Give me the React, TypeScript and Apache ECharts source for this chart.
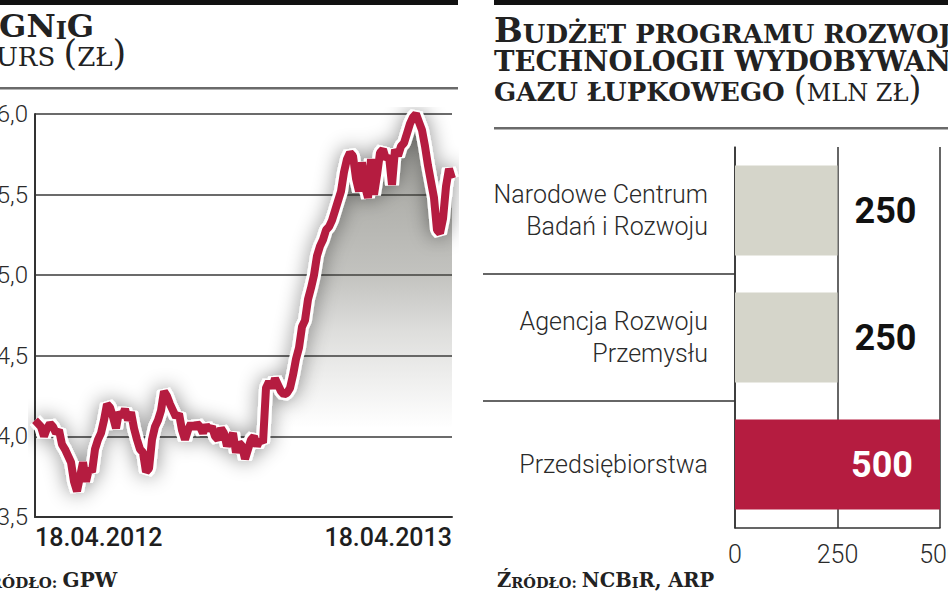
import React, { useEffect, useRef } from 'react';
import * as echarts from 'echarts';

// PGNiG share price (zł), 18.04.2012 – 18.04.2013
const prices = [
  4.10, 4.08, 4.06, 4.00, 4.05, 4.08, 4.06, 4.02, 4.04, 3.95,
  3.92, 3.88, 3.84, 3.72, 3.66, 3.75, 3.84, 3.72, 3.80, 3.78,
  3.92, 3.98, 4.02, 4.10, 4.20, 4.18, 4.12, 4.05, 4.15, 4.12,
  4.17, 4.10, 4.15, 4.05, 3.98, 3.92, 3.90, 3.78, 3.80, 3.98,
  4.06, 4.10, 4.16, 4.28, 4.25, 4.20, 4.16, 4.12, 4.14, 4.04,
  3.98, 4.04, 4.08, 4.05, 4.08, 4.06, 4.02, 4.07, 4.04, 4.06,
  4.00, 3.98, 4.05, 4.02, 3.94, 3.98, 4.02, 3.90, 3.96, 3.94,
  3.86, 3.92, 3.98, 4.00, 3.94, 3.98, 3.96, 4.30, 4.34, 4.30,
  4.36, 4.32, 4.28, 4.26, 4.27, 4.30, 4.38, 4.48, 4.55, 4.68,
  4.72, 4.85, 4.92, 5.00, 5.12, 5.18, 5.22, 5.28, 5.30, 5.34,
  5.40, 5.46, 5.52, 5.64, 5.72, 5.76, 5.74, 5.60, 5.52, 5.70,
  5.55, 5.48, 5.72, 5.50, 5.62, 5.76, 5.78, 5.72, 5.74, 5.56,
  5.78, 5.74, 5.80, 5.82, 5.88, 5.94, 5.98, 6.00, 5.95, 5.90,
  5.80, 5.68, 5.58, 5.48, 5.28, 5.26, 5.35, 5.55, 5.66, 5.60,
];
const dateLabels = ['18.04.2012', '18.04.2013'];
const priceRange = [3.5, 6.0];
const priceStep = 0.5;

// Budget of the shale gas technology programme (mln zł)
const budgetCategories = [
  'Narodowe Centrum\nBadań i Rozwoju',
  'Agencja Rozwoju\nPrzemysłu',
  'Przedsiębiorstwa',
];
const budgetValues = [250, 250, 500];
const budgetRange = [0, 500];
const budgetStep = 250;

const SANS = 'Roboto, "Liberation Sans", sans-serif';
const SERIF = '"DejaVu Serif", "Liberation Serif", serif';
const CRIMSON = '#b51c40';
const GRAY_BAR = '#d5d5ca';
const INK = '#222';

export default function App() {
  const ref = useRef<HTMLDivElement>(null);

  useEffect(() => {
    const chart = echarts.init(ref.current!, null, { renderer: 'svg' });
    const lastIdx = prices.length - 1;
    const lineData = prices.map((v, i) => [i, v]);
    const maxBudget = Math.max(...budgetValues);

    const barData = budgetValues.map((v) => {
      const highlight = v === maxBudget;
      return {
        value: v,
        itemStyle: { color: highlight ? CRIMSON : GRAY_BAR },
        label: highlight
          ? { position: 'insideRight', distance: 27, color: '#fff' }
          : { position: 'right', distance: 17, color: '#111' },
      };
    });

    // serif token style; lh = height of the token's line box
    const tok = (size: number, weight: string, lh?: number) => ({
      fontFamily: SERIF, fontSize: size, fontWeight: weight, fill: INK,
      lineHeight: lh ?? size, verticalAlign: 'bottom',
    });

    const option: any = {
      animation: false,
      backgroundColor: '#fff',
      grid: [
        { left: 35, top: 114, width: 417, height: 403, outerBoundsMode: 'none', containLabel: false },
        { left: 735, top: 147, width: 205, height: 381, outerBoundsMode: 'none', containLabel: false },
        { left: 483, top: 147, width: 252, height: 381, outerBoundsMode: 'none', containLabel: false },
      ],
      xAxis: [
        {
          type: 'value', gridIndex: 0, min: 0, max: lastIdx, interval: lastIdx,
          axisLine: { show: true, lineStyle: { color: '#333', width: 2 } },
          axisTick: { show: false },
          splitLine: { show: false },
          axisLabel: {
            fontFamily: SANS, fontSize: 25, fontWeight: 500, color: '#1e1e1e', margin: 8,
            alignMinLabel: 'left', alignMaxLabel: 'right',
            formatter: (v: number) => (v === 0 ? dateLabels[0] : dateLabels[1]),
          },
        },
        {
          type: 'value', gridIndex: 1, min: budgetRange[0], max: budgetRange[1], interval: budgetStep,
          axisLine: { show: true, lineStyle: { color: '#333', width: 1.5 } },
          axisTick: { show: false },
          splitLine: { show: true, lineStyle: { color: '#333', width: 1.5 } },
          axisLabel: { fontFamily: SANS, fontSize: 25, fontWeight: 300, color: '#2a2a2a', margin: 14 },
        },
        { type: 'value', gridIndex: 2, min: 0, max: 1, show: false },
      ],
      yAxis: [
        {
          type: 'value', gridIndex: 0, min: priceRange[0], max: priceRange[1], interval: priceStep,
          axisLine: { show: true, lineStyle: { color: '#333', width: 2 } },
          axisTick: { show: false },
          splitLine: { show: true, lineStyle: { color: '#3a3a3a', width: 1.5 } },
          axisLabel: {
            fontFamily: SANS, fontSize: 24, fontWeight: 300, color: '#2a2a2a', margin: 7,
            formatter: (v: number) => v.toFixed(1).replace('.', ','),
          },
        },
        {
          type: 'category', gridIndex: 1, data: budgetCategories, inverse: true,
          axisLine: { show: true, lineStyle: { color: '#333', width: 1.5 } },
          axisTick: { show: false },
          axisLabel: {
            fontFamily: SANS, fontSize: 25, fontWeight: 300, color: '#2a2a2a',
            lineHeight: 32, margin: 27, align: 'right',
          },
        },
        {
          type: 'category', gridIndex: 2, data: budgetCategories, inverse: true,
          axisLine: { show: false }, axisTick: { show: false }, axisLabel: { show: false },
          splitLine: {
            show: true, showMinLine: false, showMaxLine: false,
            lineStyle: { color: '#333', width: 1.5 },
          },
        },
      ],
      series: [
        {
          type: 'line', xAxisIndex: 0, yAxisIndex: 0, data: lineData,
          symbol: 'none', silent: true, z: 1,
          lineStyle: { width: 14, color: '#fff', shadowBlur: 20, shadowColor: 'rgba(0,0,0,0.45)' },
          areaStyle: {
            color: new echarts.graphic.LinearGradient(0, 0, 0, 1, [
              { offset: 0, color: 'rgba(80,80,70,0.72)' },
              { offset: 0.21, color: 'rgba(80,80,70,0.64)' },
              { offset: 0.4, color: 'rgba(80,80,70,0.49)' },
              { offset: 0.54, color: 'rgba(80,80,70,0.27)' },
              { offset: 0.66, color: 'rgba(80,80,70,0.13)' },
              { offset: 0.78, color: 'rgba(80,80,70,0)' },
            ]),
          },
        },
        {
          type: 'line', xAxisIndex: 0, yAxisIndex: 0, data: lineData,
          symbol: 'none', silent: true, z: 2,
          lineStyle: { width: 8, color: CRIMSON },
        },
        {
          type: 'bar', xAxisIndex: 1, yAxisIndex: 1, data: barData,
          barCategoryGap: '29%', silent: true,
          label: { show: true, fontFamily: SANS, fontSize: 36, fontWeight: 'bold' },
        },
      ],
      graphic: [
        { type: 'rect', shape: { x: 0, y: 0, width: 458, height: 5 }, style: { fill: '#111' } },
        { type: 'rect', shape: { x: 494, y: 0, width: 454, height: 5 }, style: { fill: '#111' } },
        { type: 'rect', shape: { x: 0, y: 87, width: 458, height: 2.5 }, style: { fill: '#6a6a6a' } },
        { type: 'rect', shape: { x: 494, y: 127, width: 454, height: 2.5 }, style: { fill: '#6a6a6a' } },
        {
          type: 'text', x: -25, y: 42,
          style: {
            text: '{b|PGN}{s|I}{b|G}', verticalAlign: 'bottom',
            rich: { b: tok(32, 'bold'), s: tok(24, 'bold') },
          },
        },
        {
          type: 'text', x: -28, y: 70,
          style: {
            text: '{b|K}{s|URS }{p|(}{s|ZŁ}{p|)}', verticalAlign: 'bottom',
            rich: { b: tok(32, 'normal', 26), s: tok(26, 'normal'), p: tok(35, 'normal', 26) },
          },
        },
        {
          type: 'text', x: 494, y: 47,
          style: {
            text: '{b|B}{s|UDŻET PROGRAMU ROZWOJU}', verticalAlign: 'bottom',
            rich: { b: tok(34, 'bold'), s: tok(26, 'bold') },
          },
        },
        {
          type: 'text', x: 494, y: 75,
          style: {
            text: '{s|TECHNOLOGII WYDOBYWANIA}', verticalAlign: 'bottom',
            rich: { s: tok(27.5, 'bold', 26) },
          },
        },
        {
          type: 'text', x: 494, y: 105,
          style: {
            text: '{s|GAZU ŁUPKOWEGO }{p|(}{n|MLN ZŁ}{p|)}', verticalAlign: 'bottom',
            rich: { s: tok(26, 'bold'), n: tok(24, 'normal', 26), p: tok(33, 'normal', 26) },
          },
        },
        {
          type: 'text', x: -25, y: 590,
          style: {
            text: '{b|Ź}{s|RÓDŁO: }{b|GPW}', verticalAlign: 'bottom',
            rich: { b: tok(20, 'bold'), s: tok(15, 'bold') },
          },
        },
        {
          type: 'text', x: 497, y: 590,
          style: {
            text: '{b|Ź}{s|RÓDŁO: }{b|NCB}{s|I}{b|R, ARP}', verticalAlign: 'bottom',
            rich: { b: tok(19.5, 'bold'), s: tok(14.5, 'bold') },
          },
        },
      ],
    };

    chart.setOption(option);
    return () => chart.dispose();
  }, []);

  return (
    <div
      ref={ref}
      style={{ position: 'fixed', left: 0, top: 0, width: 948, height: 593, background: '#fff' }}
    />
  );
}
